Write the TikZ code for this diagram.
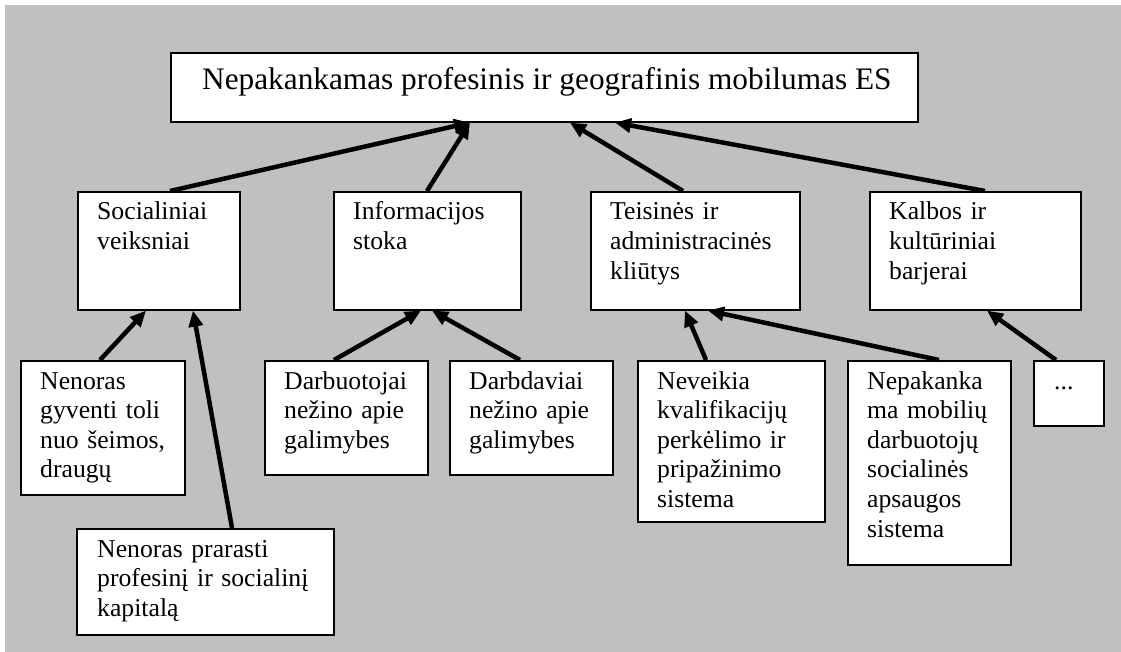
\documentclass[tikz,border=0pt]{standalone}
\usepackage{fontspec}
\setmainfont{Liberation Serif}
\usetikzlibrary{arrows.meta}
\definecolor{panel}{RGB}{192,192,192}
\tikzset{
  frame/.style={draw=black, fill=white, line width=1.6pt, anchor=north west, inner sep=0pt},
  caption/.style={anchor=base west, inner sep=0pt, align=left, text width=150pt,
    font=\fontsize{25.7}{29.6}\selectfont},
  link/.style={line width=4.5pt, -{Triangle[length=16pt,width=14pt]}},
}
\begin{document}
\begin{tikzpicture}[x=1pt,y=-1pt]
  \useasboundingbox (0,0) rectangle (1121,652);
  \fill[white] (0,0) rectangle (1121,652);
  \fill[panel] (5,5) rectangle (1121,652);

  % main problem
  \node[frame, minimum width=747pt, minimum height=69pt] (top) at (170,52) {};
  \node[anchor=base west, inner sep=0pt, font=\fontsize{31.3}{36}\selectfont] (top-t) at (202,90)
    {Nepakankamas profesinis ir geografinis mobilumas ES};

  % groups of causes
  \node[frame, minimum width=162pt, minimum height=118pt] (soc) at (77,191) {};
  \node[frame, minimum width=187pt, minimum height=118pt] (inf) at (333,191) {};
  \node[frame, minimum width=209pt, minimum height=118pt] (tei) at (590,191) {};
  \node[frame, minimum width=211pt, minimum height=118pt] (kal) at (869,191) {};
  \node[caption] (soc-t) at (97,220) {Socialiniai\\veiksniai};
  \node[caption] (inf-t) at (353,220) {Informacijos\\stoka};
  \node[caption, text width=185pt] (tei-t) at (610,220) {Teisinės ir\\administracinės\\kliūtys};
  \node[caption, text width=185pt] (kal-t) at (889,220) {Kalbos ir\\kultūriniai\\barjerai};

  % individual causes
  \node[frame, minimum width=164pt, minimum height=134pt] (nen) at (20,360) {};
  \node[frame, minimum width=163pt, minimum height=114pt] (dbt) at (264,360) {};
  \node[frame, minimum width=163pt, minimum height=114pt] (dbd) at (449,360) {};
  \node[frame, minimum width=187pt, minimum height=161pt] (nev) at (637,360) {};
  \node[frame, minimum width=163pt, minimum height=204pt] (nep) at (847,360) {};
  \node[frame, minimum width=70pt, minimum height=65pt] (dots) at (1033,360) {};
  \node[frame, minimum width=257pt, minimum height=106pt] (pra) at (76,528) {};
  \node[caption, text width=140pt] (nen-t) at (40,389) {Nenoras\\gyventi toli\\nuo šeimos,\\draugų};
  \node[caption, text width=140pt] (dbt-t) at (284,389) {Darbuotojai\\nežino apie\\galimybes};
  \node[caption, text width=140pt] (dbd-t) at (469,389) {Darbdaviai\\nežino apie\\galimybes};
  \node[caption, text width=165pt] (nev-t) at (657,389) {Neveikia\\kvalifikacijų\\perkėlimo ir\\pripažinimo\\sistema};
  \node[caption, text width=140pt] (nep-t) at (867,389) {Nepakanka\\ma mobilių\\darbuotojų\\socialinės\\apsaugos\\sistema};
  \node[caption, text width=45pt] (dots-t) at (1054,389) {...};
  \node[caption, text width=230pt] (pra-t) at (97,557) {Nenoras prarasti\\profesinį ir socialinį\\kapitalą};

  % connectors
  \draw[link] ([xshift=93pt]soc.north west) -- ([xshift=300pt]top.south west);
  \draw[link] ([xshift=94pt]inf.north west) -- ([xshift=300pt]top.south west);
  \draw[link] ([xshift=93pt]tei.north west) -- ([xshift=400pt]top.south west);
  \draw[link] ([xshift=116pt]kal.north west) -- ([xshift=445pt]top.south west);
  \draw[link] ([xshift=80pt]nen.north west) -- ([xshift=69pt]soc.south west);
  \draw[link] ([xshift=156pt]pra.north west) -- ([xshift=116pt]soc.south west);
  \draw[link] ([xshift=70pt]dbt.north west) -- ([xshift=88pt]inf.south west);
  \draw[link] ([xshift=71pt]dbd.north west) -- ([xshift=99pt]inf.south west);
  \draw[link] ([xshift=69pt]nev.north west) -- ([xshift=95pt]tei.south west);
  \draw[link] ([xshift=92pt]nep.north west) -- ([xshift=118pt]tei.south west);
  \draw[link] ([xshift=23pt]dots.north west) -- ([xshift=118pt]kal.south west);
\end{tikzpicture}
\end{document}
